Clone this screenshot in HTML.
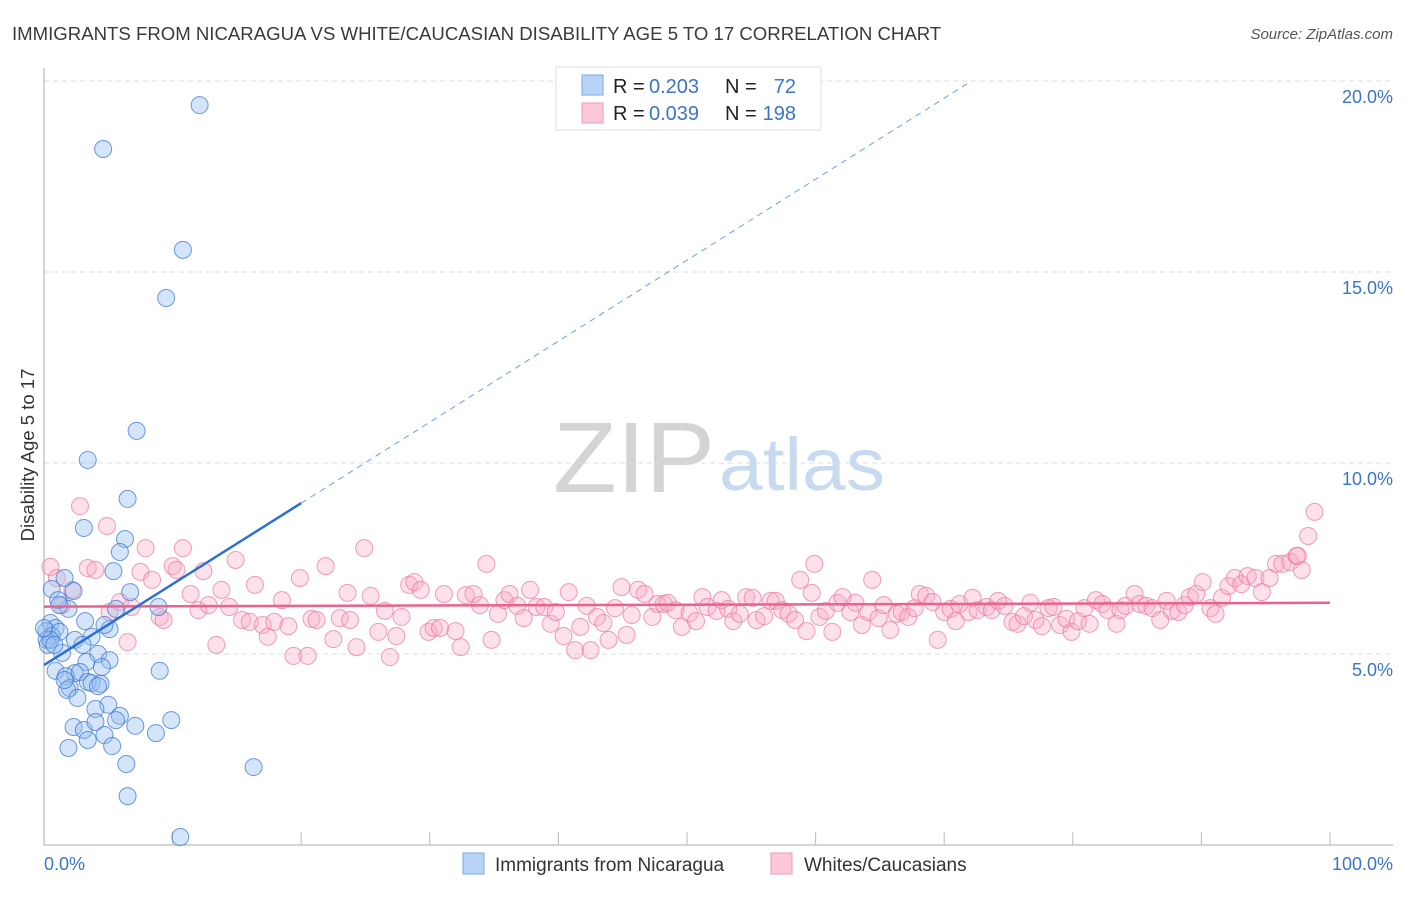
<!DOCTYPE html>
<html><head><meta charset="utf-8"><style>
body{margin:0;background:#fff;font-family:"Liberation Sans",sans-serif}
svg text{font-family:"Liberation Sans",sans-serif}
</style></head><body>
<svg id="chart" width="1406" height="892" viewBox="0 0 1406 892" xmlns="http://www.w3.org/2000/svg">
<text x="12" y="40" font-size="18.6" fill="#3a3a3a">IMMIGRANTS FROM NICARAGUA VS WHITE/CAUCASIAN DISABILITY AGE 5 TO 17 CORRELATION CHART</text>
<text x="1393" y="39" font-size="15" fill="#555" font-style="italic" text-anchor="end">Source: ZipAtlas.com</text>
<g>
<text x="553" y="492" font-size="100" fill="#d4d4d4" font-family="Liberation Serif" textLength="162" lengthAdjust="spacingAndGlyphs">ZIP</text>
<text x="719" y="490" font-size="74" fill="#c8daf0" textLength="166" lengthAdjust="spacingAndGlyphs">atlas</text>
</g>
<g id="grid"></g>
<g id="axes"></g>
<g id="marks"></g>
<text transform="translate(34,455) rotate(-90)" font-size="18.5" fill="#333" text-anchor="middle">Disability Age 5 to 17</text>
<g>
<rect x="556" y="67" width="265" height="63" fill="#fff" stroke="#ddd"/>
<rect x="582" y="75" width="21" height="20" fill="#b8d3f5" stroke="#7aa8e0"/>
<rect x="582" y="103" width="21" height="20" fill="#fcc8d8" stroke="#ee9ab5"/>
<text x="613" y="93" font-size="20" fill="#222">R =</text>
<text x="649" y="93" font-size="20" fill="#3b74c9">0.203</text>
<text x="725" y="93" font-size="20" fill="#222">N =</text>
<text x="796" y="93" font-size="20" fill="#3b74c9" text-anchor="end">72</text>
<text x="613" y="120" font-size="20" fill="#222">R =</text>
<text x="649" y="120" font-size="20" fill="#3b74c9">0.039</text>
<text x="725" y="120" font-size="20" fill="#222">N =</text>
<text x="796" y="120" font-size="20" fill="#3b74c9" text-anchor="end">198</text>
</g>
<g>
<rect x="463" y="853" width="21" height="21" fill="#b8d3f5" stroke="#7aa8e0"/>
<text x="495" y="871" font-size="19" fill="#333">Immigrants from Nicaragua</text>
<rect x="771" y="853" width="21" height="21" fill="#fcc8d8" stroke="#ee9ab5"/>
<text x="804" y="871" font-size="19" fill="#333">Whites/Caucasians</text>
</g>
</svg>
<script>
const yTicks=[5,10,15,20];
const yTickLabels=["5.0%","10.0%","15.0%","20.0%"];
const xTicks=[0,10,20,30,40,50,60,70,80,90,100];
const blueX=[12.1,4.6,10.8,9.5,7.2,3.4,6.5,3.1,6.3,5.9,5.4,1.6,0.6,2.3,6.7,5.6,8.9,1.9,3.2,0.5,0.9,0.2,0.6,0.2,1.2,2.4,3.7,3.0,0.3,5.1,4.7,1.4,4.2,5.1,3.3,9.0,0.9,2.4,1.7,2.8,3.4,3.7,4.4,4.2,2.0,1.8,2.6,5.0,4.0,5.9,5.6,2.3,3.1,4.0,7.1,8.7,9.9,4.7,3.4,5.3,1.9,6.4,16.3,6.5,10.6,0.5,0.8,0.0,1.1,1.2,1.6,4.5];
const blueY=[19.37,18.22,15.58,14.32,10.84,10.08,9.06,8.30,8.01,7.67,7.17,6.99,6.70,6.65,6.62,6.18,6.23,6.18,5.86,5.81,5.68,5.60,5.47,5.37,5.58,5.37,5.45,5.24,5.24,5.65,5.76,5.03,5.00,4.84,4.79,4.56,4.56,4.50,4.42,4.53,4.27,4.24,4.22,4.16,4.11,4.06,3.85,3.67,3.56,3.38,3.27,3.09,3.01,3.22,3.12,2.93,3.27,2.88,2.75,2.59,2.54,2.12,2.04,1.28,0.21,5.37,5.24,5.68,6.41,6.28,4.32,4.66];
const pinkX=[0.5,1.0,1.4,2.2,2.8,3.4,4.0,4.9,5.1,5.9,6.5,6.8,7.5,7.9,8.4,9.0,9.3,10.0,10.3,10.8,11.4,12.0,12.4,12.8,13.4,13.8,14.4,14.9,15.4,16.0,16.4,17.0,17.4,17.9,18.5,19.0,19.4,19.9,20.5,20.8,21.2,21.9,22.5,23.0,23.6,23.8,24.3,24.9,25.4,26.0,26.5,26.9,27.4,27.8,28.4,28.8,29.3,29.9,30.3,30.8,31.1,32.0,32.4,32.8,33.4,33.9,34.4,34.8,35.3,35.8,36.2,36.8,37.3,37.8,38.3,38.9,39.4,39.8,40.4,40.8,41.3,41.7,42.2,42.5,43.0,43.5,43.9,44.4,44.9,45.3,45.7,46.2,46.7,47.3,47.7,48.2,48.5,49.1,49.6,50.2,50.7,51.2,51.6,52.3,52.7,53.2,53.6,54.1,54.6,55.1,55.4,56.0,56.5,56.9,57.4,57.9,58.4,58.8,59.3,59.7,59.9,60.3,60.8,61.3,61.7,62.1,62.7,63.1,63.6,64.1,64.4,64.9,65.3,65.8,66.3,66.7,67.2,67.7,68.1,68.6,69.1,69.5,70.0,70.5,70.9,71.2,71.9,72.2,72.6,73.3,73.7,74.2,74.7,75.3,75.7,76.2,76.7,77.1,77.6,78.1,78.5,79.0,79.5,79.9,80.4,80.9,81.3,81.8,82.3,82.7,83.4,83.7,84.1,84.8,85.2,85.7,86.2,86.8,87.3,87.7,88.2,88.7,89.1,89.6,90.1,90.7,91.1,91.6,92.1,92.6,93.1,93.6,94.2,94.7,95.3,95.8,96.3,96.9,97.4,97.8,98.3,98.8,97.5];
const pinkY=[7.28,6.99,6.28,6.68,8.87,7.25,7.20,8.35,6.10,6.36,5.31,6.23,7.15,7.77,6.94,5.97,5.89,7.30,7.20,7.77,6.57,6.15,7.17,6.28,5.24,6.68,6.23,7.46,5.89,5.84,6.81,5.76,5.45,5.84,6.41,5.73,4.95,6.99,4.95,5.92,5.89,7.30,5.39,5.94,6.60,5.89,5.18,7.77,6.52,5.58,6.13,4.92,5.47,5.97,6.81,6.88,6.68,5.58,5.68,5.68,6.57,5.60,5.18,6.54,6.57,6.28,7.36,5.37,6.05,6.41,6.57,6.26,5.94,6.68,6.23,6.23,5.79,6.10,5.47,6.62,5.10,5.71,6.26,5.10,5.97,5.81,5.37,6.20,6.75,5.50,6.02,6.68,6.57,5.97,6.31,6.31,6.34,6.15,5.71,6.07,5.86,6.49,6.23,6.13,6.41,6.18,5.86,6.05,6.49,6.47,5.89,5.99,6.39,6.39,6.15,6.05,5.89,6.94,5.60,6.60,7.36,5.97,6.13,5.58,6.34,6.49,6.10,6.34,5.76,6.10,6.94,5.94,6.28,5.63,6.05,6.10,5.97,6.20,6.57,6.52,6.36,5.37,6.10,6.18,5.86,6.31,6.10,6.47,6.15,6.23,6.15,6.39,6.26,5.84,5.79,5.99,6.34,5.89,5.73,6.20,6.23,5.76,5.92,5.58,5.86,6.20,5.79,6.41,6.31,6.15,5.79,6.15,6.26,6.57,6.31,6.26,6.20,5.89,6.39,6.13,6.10,6.28,6.49,6.57,6.88,6.20,6.05,6.47,6.78,6.99,6.83,7.04,6.99,6.62,6.99,7.36,7.36,7.41,7.57,7.20,8.09,8.72,7.57];
const blueTrend=[4.71,0.212];
const pinkTrend=[6.24,6.34];

const NS="http://www.w3.org/2000/svg";
const X0=44,X1=1330,Y0=845,YPER=38.2;
const xs=v=>X0+v*(X1-X0)/100;
const ys=v=>Y0-v*YPER;
function mk(tag,attrs,parent){const e=document.createElementNS(NS,tag);for(const k in attrs)e.setAttribute(k,attrs[k]);parent.appendChild(e);return e;}
const grid=document.getElementById('grid'),axes=document.getElementById('axes'),marks=document.getElementById('marks');
yTicks.forEach((t,i)=>{
  const l=mk('line',{x1:X0,x2:1393,y1:ys(t),y2:ys(t),stroke:'#ddd','stroke-dasharray':'5,4'},grid);
  
  
  const tx=mk('text',{x:1393,y:ys(t)+22,'font-size':18,fill:'#3b74c9','text-anchor':'end'},grid);
  tx.textContent=yTickLabels[i];
  
  
});
let a=mk('line',{x1:X0,x2:X0,y1:68,y2:Y0,stroke:'#aaa'},axes);


a=mk('line',{x1:X0,x2:1393,y1:Y0,y2:Y0,stroke:'#aaa'},axes);


xTicks.forEach(t=>{if(t===0)return;const l=mk('line',{x1:xs(t),x2:xs(t),y1:Y0-13,y2:Y0,stroke:'#bbb'},axes);
  
  });
let lb=mk('text',{x:44,y:870,'font-size':18,fill:'#3b74c9'},axes);lb.textContent='0.0%';


lb=mk('text',{x:1393,y:870,'font-size':18,fill:'#3b74c9','text-anchor':'end'},axes);lb.textContent='100.0%';



pinkX.forEach((x,i)=>{const c=mk('circle',{cx:xs(x),cy:ys(pinkY[i]),r:8.5,fill:'rgba(248,170,195,0.35)',stroke:'rgba(232,120,155,0.7)','stroke-width':1},marks);
  
  });
blueX.forEach((x,i)=>{const c=mk('circle',{cx:xs(x),cy:ys(blueY[i]),r:8.5,fill:'rgba(150,190,240,0.4)',stroke:'rgba(60,120,210,0.75)','stroke-width':1},marks);
  
  });
let t=mk('line',{x1:xs(0),y1:ys(pinkTrend[0]),x2:xs(100),y2:ys(pinkTrend[1]),stroke:'#e8638d','stroke-width':2.5},marks);


t=mk('line',{x1:xs(0),y1:ys(blueTrend[0]),x2:xs(20),y2:ys(blueTrend[0]+20*blueTrend[1]),stroke:'#2a6fd6','stroke-width':2.5},marks);


const xEnd=(20-blueTrend[0])/blueTrend[1];
t=mk('line',{x1:xs(20),y1:ys(blueTrend[0]+20*blueTrend[1]),x2:xs(xEnd),y2:ys(20),stroke:'#6a9ee0','stroke-width':1,'stroke-dasharray':'6,5'},marks);


</script>
</body></html>
